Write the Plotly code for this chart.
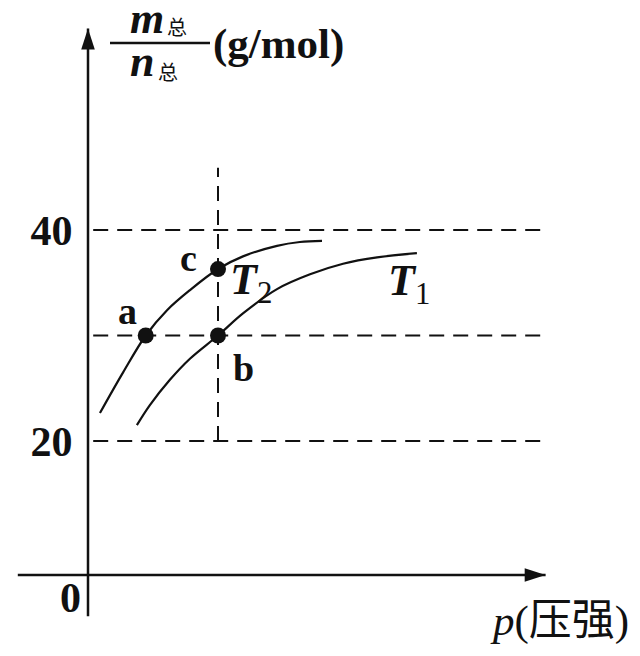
import plotly.graph_objects as go

# ---- data ----
p_T2 = [0.46, 1.35, 2.22, 3.04, 3.92, 5.0, 5.96, 7.27, 8.15, 9.0]
M_T2 = [22.65, 26.5, 30.0, 32.4, 34.3, 36.3, 37.5, 38.5, 38.86, 38.96]
p_T1 = [1.88, 2.38, 3.15, 3.92, 5.0, 5.96, 7.27, 8.54, 9.81, 11.12, 12.65]
M_T1 = [21.5, 23.4, 25.8, 27.8, 30.0, 32.1, 34.4, 35.8, 36.8, 37.4, 37.8]
pt_labels = ["a", "b", "c"]
pt_p = [2.22, 5.0, 5.0]
pt_M = [30.0, 30.0, 36.3]
grid_M = [20, 30, 40]
tick_vals = [20, 40]
tick_text = ["20", "40"]
p_ref = 5.0
curve_labels = ["T2", "T1"]

# ---- layout geometry ----
W, H = 640, 656
OFF = 8                         # page body margin of the browser
X0PX, XSCALE = 88 - OFF, 26.0   # figure pixel of p=0, px per unit p
Y40PX, YSCALE = 230 - OFF, 10.55
x_rng = [-X0PX / XSCALE, (W - X0PX) / XSCALE]
y_rng = [40 - (H - Y40PX) / YSCALE, 40 + Y40PX / YSCALE]

axis_p0, axis_p1 = -2.7, 17.6   # x-axis extent
axis_M = 7.3                    # where the x-axis sits (schematic origin)
yaxis_M0, yaxis_M1 = 3.4, 59.1  # y-axis extent
grid_p0, grid_p1 = 0.2, 17.4
vref_top = 45.9

SERIF = "Liberation Serif, Times New Roman, serif"
CJK = "Noto Sans CJK SC"
BLACK = "#111111"

fig = go.Figure()

# dashed horizontal guide lines
for m in grid_M:
    fig.add_trace(go.Scatter(x=[grid_p0, grid_p1], y=[m, m], mode="lines",
                             line=dict(color=BLACK, width=2, dash="15px,9px"),
                             hoverinfo="skip", showlegend=False))
# dashed vertical guide line
fig.add_trace(go.Scatter(x=[p_ref, p_ref], y=[grid_M[0], vref_top], mode="lines",
                         line=dict(color=BLACK, width=2, dash="15px,9px"),
                         hoverinfo="skip", showlegend=False))

# axes with arrows
fig.add_trace(go.Scatter(x=[axis_p0, axis_p1], y=[axis_M, axis_M], mode="lines",
                         line=dict(color=BLACK, width=2.5), showlegend=False, hoverinfo="skip"))
fig.add_trace(go.Scatter(x=[0, 0], y=[yaxis_M0, yaxis_M1], mode="lines",
                         line=dict(color=BLACK, width=2.5), showlegend=False, hoverinfo="skip"))
fig.add_trace(go.Scatter(x=[axis_p1], y=[axis_M], mode="markers",
                         marker=dict(symbol="arrow", size=22, angle=90, color=BLACK,
                                     line=dict(width=0)),
                         showlegend=False, hoverinfo="skip"))
fig.add_trace(go.Scatter(x=[0], y=[yaxis_M1], mode="markers",
                         marker=dict(symbol="arrow", size=22, angle=0, color=BLACK,
                                     line=dict(width=0)),
                         showlegend=False, hoverinfo="skip"))

# curves
fig.add_trace(go.Scatter(x=p_T2, y=M_T2, mode="lines",
                         line=dict(color=BLACK, width=2.2, shape="spline", smoothing=1.0),
                         name="T2", showlegend=False))
fig.add_trace(go.Scatter(x=p_T1, y=M_T1, mode="lines",
                         line=dict(color=BLACK, width=2.2, shape="spline", smoothing=1.0),
                         name="T1", showlegend=False))

# points
fig.add_trace(go.Scatter(x=pt_p, y=pt_M, mode="markers",
                         marker=dict(size=16, color=BLACK, line=dict(width=0)),
                         showlegend=False))


def px(xp, yp):
    """reference-picture pixel -> paper coordinates"""
    return dict(x=(xp - OFF) / W, y=1 - (yp - OFF) / H, xref="paper", yref="paper")


ann = []
bold_font = dict(family=SERIF, size=38, color=BLACK, weight="bold")
# point labels
for lab, (xp, yp) in zip(pt_labels, [(127, 311), (243, 368), (188, 258)]):
    ann.append(dict(text=lab, showarrow=False, font=bold_font,
                    xanchor="center", yanchor="middle", **px(xp, yp)))
# curve labels
for lab, (xp, yp) in zip(curve_labels, [(251, 282), (409, 284)]):
    ann.append(dict(text="<b><i>T</i></b><sub>" + lab[1] + "</sub>", showarrow=False,
                    font=dict(family=SERIF, size=44, color=BLACK),
                    xanchor="center", yanchor="middle", **px(xp, yp)))
# origin label
ann.append(dict(text="0", showarrow=False,
                font=dict(family=SERIF, size=42, color=BLACK, weight="bold"),
                xanchor="center", yanchor="middle", **px(70, 598)))
# x-axis title
ann.append(dict(text="<i>p</i>(压强)", showarrow=False,
                font=dict(family=SERIF + ", " + CJK, size=43, color=BLACK),
                xanchor="center", yanchor="middle", **px(559, 621)))
# y-axis title: fraction m总 / n总 (g/mol)
ann.append(dict(text="<b><i>m</i></b>", showarrow=False,
                font=dict(family=SERIF, size=44, color=BLACK),
                xanchor="center", yanchor="middle", **px(147, 18)))
ann.append(dict(text="总", showarrow=False, font=dict(family=CJK, size=20, color=BLACK),
                xanchor="center", yanchor="middle", **px(177, 27)))
ann.append(dict(text="<b><i>n</i></b>", showarrow=False,
                font=dict(family=SERIF, size=44, color=BLACK),
                xanchor="center", yanchor="middle", **px(142, 61)))
ann.append(dict(text="总", showarrow=False, font=dict(family=CJK, size=20, color=BLACK),
                xanchor="center", yanchor="middle", **px(168, 71)))
ann.append(dict(text="(g/mol)", showarrow=False,
                font=dict(family=SERIF, size=43, color=BLACK, weight="bold"),
                xanchor="center", yanchor="middle", **px(278, 44)))

shapes = [dict(type="line", xref="paper", yref="paper",
               x0=(110 - OFF) / W, x1=(210 - OFF) / W,
               y0=1 - (43 - OFF) / H, y1=1 - (43 - OFF) / H,
               line=dict(color=BLACK, width=2.5))]

fig.update_layout(
    width=W, height=H, margin=dict(l=0, r=0, t=0, b=0),
    paper_bgcolor="white", plot_bgcolor="white",
    xaxis=dict(range=x_rng, visible=False, fixedrange=True),
    yaxis=dict(range=y_rng, anchor="free", position=X0PX / W, showgrid=False, zeroline=False,
               showline=False, tickvals=tick_vals, ticktext=tick_text, ticks="outside",
               ticklen=7, tickcolor="rgba(0,0,0,0)",
               tickfont=dict(family=SERIF, size=42, color=BLACK, weight="bold"),
               fixedrange=True),
    annotations=ann, shapes=shapes, showlegend=False,
)

fig.write_html("out.html")
